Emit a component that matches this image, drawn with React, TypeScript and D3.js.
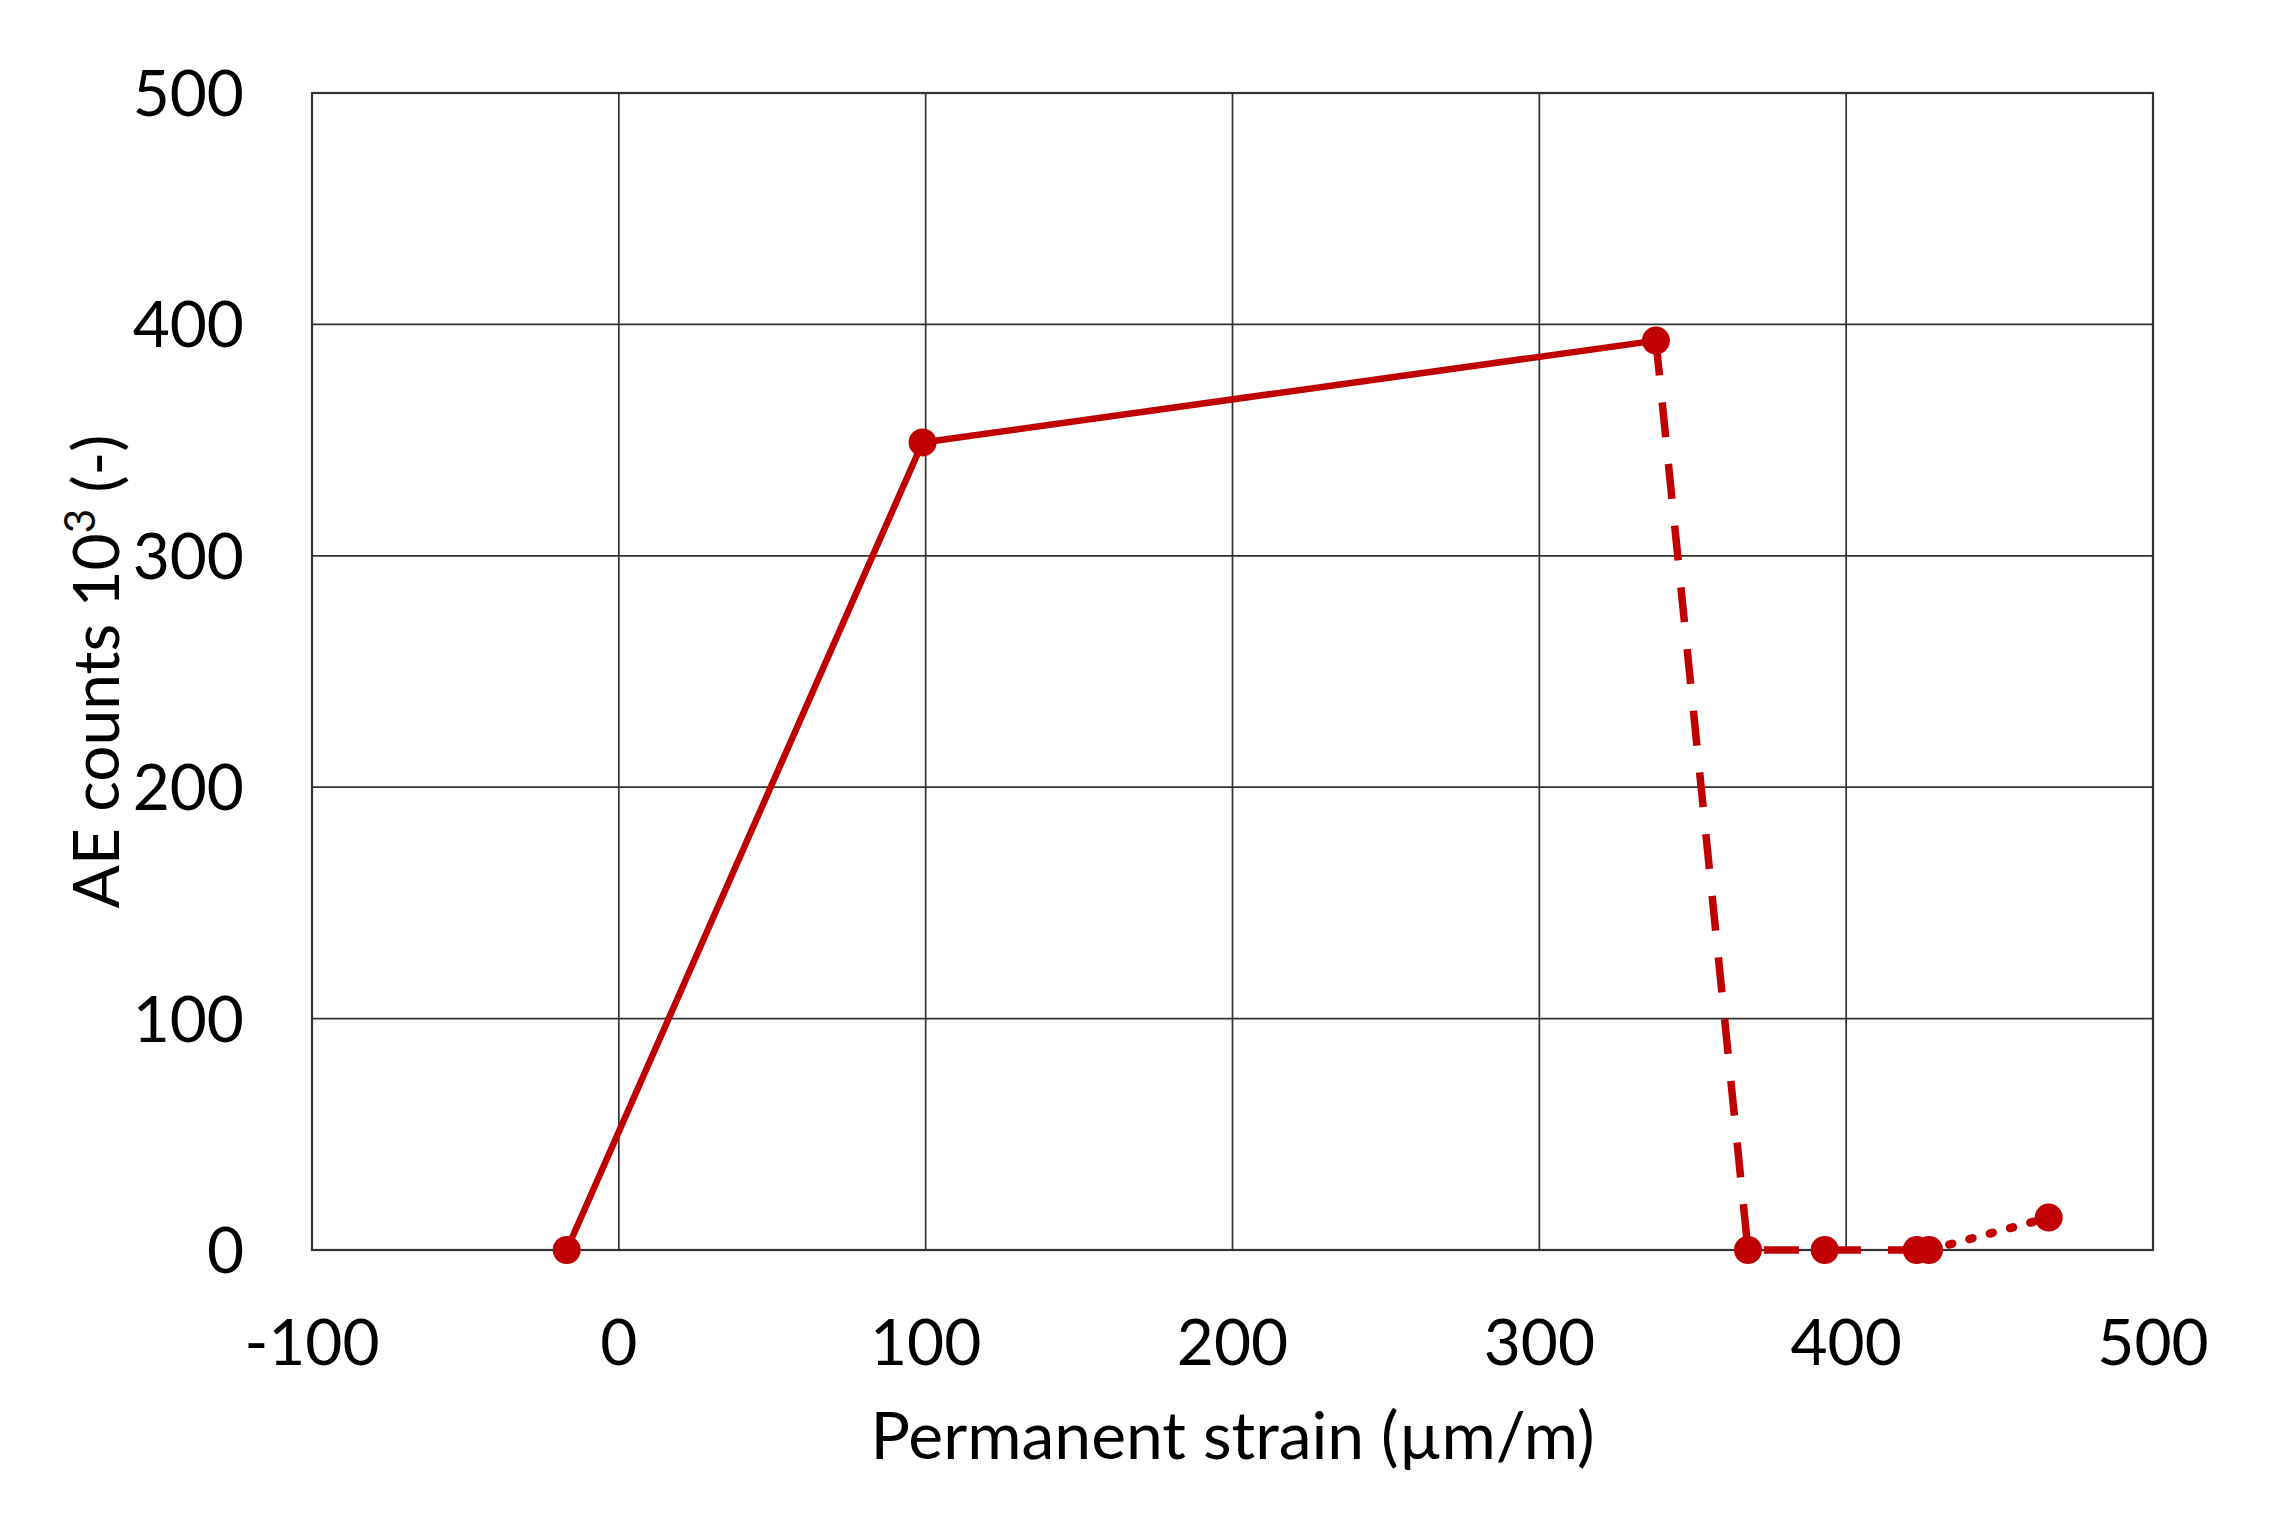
import React from "react";
import * as d3 from "d3";

const solidX = [-17, 99, 338];
const solidY = [0, 349, 393];
const dashedX = [338, 368, 393, 423];
const dashedY = [393, 0, 0, 0];
const dottedX = [427, 466];
const dottedY = [0, 14];
const markerX = [-17, 99, 338, 368, 393, 423, 427, 466];
const markerY = [0, 349, 393, 0, 0, 0, 0, 14];
const xTicks = [-100, 0, 100, 200, 300, 400, 500];
const yTicks = [0, 100, 200, 300, 400, 500];

const W = 2274, H = 1518;
const L = 312, R = 2153, T = 93, B = 1250;
const RED = "#C00000";
const FONT = "Lato, 'Open Sans', sans-serif";

export default function App() {
  const x = d3.scaleLinear().domain([-100, 500]).range([L, R]);
  const y = d3.scaleLinear().domain([0, 500]).range([B, T]);
  const line = d3.line<[number, number]>().x(d => x(d[0])).y(d => y(d[1]));
  const pts = (xs: number[], ys: number[]) => xs.map((v, i) => [v, ys[i]] as [number, number]);
  return (
    <svg width={W} height={H} style={{ position: "absolute", left: 0, top: 0, background: "#fff" }}>
      <rect x={0} y={0} width={W} height={H} fill="#fff" />
      {yTicks.map(t => (
        <line key={"gy" + t} x1={L} x2={R} y1={y(t)} y2={y(t)} stroke="#333" strokeWidth={1.7} />
      ))}
      {xTicks.map(t => (
        <line key={"gx" + t} x1={x(t)} x2={x(t)} y1={T} y2={B} stroke="#333" strokeWidth={1.7} />
      ))}
      <rect x={L} y={T} width={R - L} height={B - T} fill="none" stroke="#333" strokeWidth={2.2} />
      <path d={line(pts(solidX, solidY)) || ""} fill="none" stroke={RED} strokeWidth={6.5} />
      <path d={line(pts(dashedX, dashedY)) || ""} fill="none" stroke={RED} strokeWidth={7.5} strokeDasharray="35 27" />
      <path d={line(pts(dottedX, dottedY)) || ""} fill="none" stroke={RED} strokeWidth={8.5} strokeDasharray="3 18" strokeLinecap="round" />
      {markerX.map((v, i) => (
        <circle key={"m" + i} cx={x(v)} cy={y(markerY[i])} r={14} fill={RED} />
      ))}
      {xTicks.map(t => (
        <text key={"tx" + t} x={x(t)} y={1365} textAnchor="middle" fontFamily={FONT} fontSize={64} fill="#000">{t}</text>
      ))}
      {yTicks.map(t => (
        <text key={"ty" + t} x={244} y={y(t)} dy="0.36em" textAnchor="end" fontFamily={FONT} fontSize={64} fill="#000">{t}</text>
      ))}
      <text x={(L + R) / 2} y={1459} textAnchor="middle" fontFamily={FONT} fontSize={66} fill="#000">Permanent strain (µm/m)</text>
      <text transform={`translate(119, ${(T + B) / 2}) rotate(-90)`} textAnchor="middle" fontFamily={FONT} fontSize={64} fill="#000">
        AE counts 10<tspan dy={-24} fontSize={42}>3</tspan><tspan dy={24}> (-)</tspan>
      </text>
    </svg>
  );
}
